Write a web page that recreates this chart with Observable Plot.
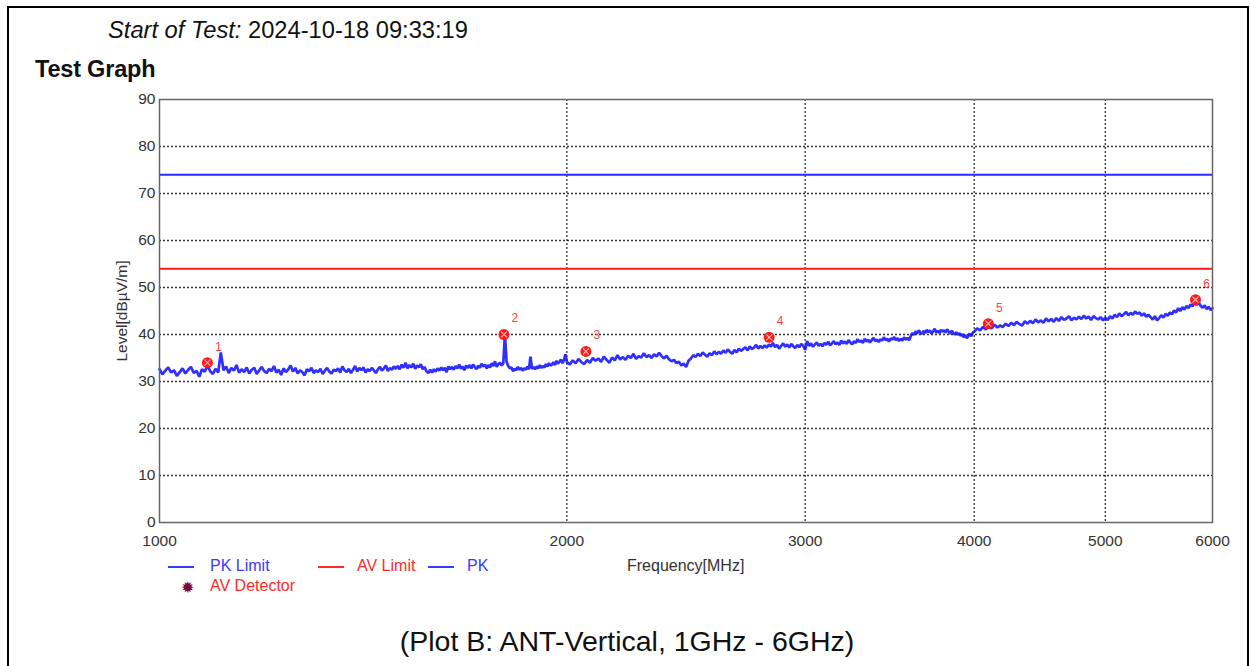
<!DOCTYPE html>
<html><head><meta charset="utf-8">
<script src="https://cdn.jsdelivr.net/npm/d3@7"></script>
<script src="https://cdn.jsdelivr.net/npm/@observablehq/plot@0.6"></script>
<style>
html,body{margin:0;padding:0;background:#fff;}
body{width:1250px;height:666px;overflow:hidden;position:relative;font-family:"Liberation Sans",Arial,sans-serif;}
#border{position:absolute;left:7px;top:6px;width:1242px;height:720px;border:2px solid #000;box-sizing:border-box;}
.abs{position:absolute;white-space:nowrap;}
#title{left:108px;top:17px;font-size:23.7px;color:#111;}
#sub{left:35px;top:56px;font-size:23.5px;font-weight:bold;color:#111;letter-spacing:-0.2px;}
#chart{left:0;top:89px;}
.leg{font-size:16px;}
.sw{position:absolute;height:2px;width:26px;}
#caption{left:0;width:1254px;text-align:center;top:625px;font-size:28.5px;color:#111;}
</style></head>
<body>
<div id="border"></div>
<div class="abs" id="title"><i>Start of Test:</i> 2024-10-18 09:33:19</div>
<div class="abs" id="sub">Test Graph</div>
<div class="abs" id="chart"></div>
<div id="legend"></div>
<div class="abs" id="caption">(Plot B: ANT-Vertical, 1GHz - 6GHz)</div>
<script>
// ---- data ----
const xTicks = [1000, 2000, 3000, 4000, 5000, 6000];
const yTicks = [0, 10, 20, 30, 40, 50, 60, 70, 80, 90];
const pkLimit = 74;
const avLimit = 54;

// PK trace, sweep 1000-1995 MHz step 5
const pkFreqA = d3.range(1000, 2000, 5);
const pkLevelA = [
 32.6,31.5,32.3,33.0,31.9,32.4,31.2,32.0,32.8,31.7,
 32.5,33.1,31.8,32.3,31.0,32.6,32.1,33.4,32.2,31.6,
 32.7,31.9,36.2,32.4,33.2,31.8,32.9,32.3,33.5,31.9,
 32.6,32.0,33.0,31.7,32.5,32.9,31.6,32.4,33.1,32.2,
 31.8,32.7,32.2,33.3,31.9,32.5,31.4,32.8,32.0,32.6,
 33.4,32.1,32.9,31.7,32.4,32.0,31.3,32.6,32.2,32.9,
 31.8,32.4,32.0,32.7,31.6,32.3,32.9,32.1,31.7,32.5,
 32.2,32.8,31.9,33.2,32.4,32.0,32.7,31.8,32.5,33.3,
 32.1,32.9,32.4,33.0,31.9,32.6,32.2,32.9,32.4,31.8,
 32.6,33.1,32.3,32.8,33.4,32.2,32.9,32.5,33.2,32.7,
 33.3,32.6,33.6,32.9,34.0,32.8,33.5,33.0,33.8,32.7,
 33.4,33.0,33.7,32.6,33.1,32.2,31.8,32.5,31.9,32.6,
 32.1,32.8,32.3,33.0,32.4,32.9,32.0,33.2,32.6,33.1,
 32.5,33.3,32.8,33.6,32.7,33.2,32.4,33.4,32.9,33.5,
 32.8,33.6,33.1,32.6,33.4,32.9,33.8,33.2,33.6,32.8,
 33.5,33.0,33.9,33.3,34.3,33.1,33.7,34.0,33.4,33.9,
 40.0,34.2,33.3,32.8,33.0,32.2,32.7,32.4,33.1,32.5,
 32.9,32.3,32.8,32.5,33.2,32.6,35.3,32.7,33.1,32.6,
 33.2,32.8,33.5,32.9,33.3,33.0,33.7,33.2,33.9,33.4,
 33.6,34.1,33.5,34.4,33.8,34.2,34.7,33.9,34.5,35.8
];
// PK trace, 2000-3990 MHz step 10
const pkFreqB = d3.range(2000, 4000, 10);
const pkLevelB = [
 34.2,33.6,34.5,33.9,34.8,34.1,33.7,34.6,34.0,35.0,
 34.4,34.9,34.2,35.3,34.6,34.0,35.1,34.5,35.6,34.7,
 35.2,34.6,35.5,35.0,35.9,34.8,35.4,35.1,36.0,35.2,
 35.6,35.0,35.8,35.3,36.1,35.4,34.9,35.5,34.7,34.3,
 34.6,33.9,34.2,33.4,33.8,33.1,34.4,34.9,35.6,35.2,
 35.9,35.4,36.2,35.7,35.3,36.0,35.6,36.4,35.8,36.3,
 35.9,36.6,36.1,36.8,36.3,35.9,36.7,36.2,37.0,36.5,
 36.9,37.3,36.6,37.5,36.9,37.2,37.8,37.0,37.6,37.1,
 37.7,37.2,37.9,37.4,38.2,37.3,37.8,37.0,37.6,38.1,
 37.4,37.9,37.2,38.0,37.5,37.1,37.8,37.3,38.0,37.6,
 36.7,38.6,37.6,38.1,37.4,37.9,38.3,37.6,38.0,37.5,
 38.2,37.8,38.5,37.7,38.1,38.6,37.9,38.3,37.8,38.7,
 38.1,38.5,38.0,38.8,38.3,37.9,38.6,38.2,39.0,38.4,
 38.7,38.2,39.1,38.5,38.9,38.3,38.8,39.3,38.6,38.9,
 38.4,39.0,38.7,39.4,38.8,39.1,38.5,39.2,38.9,39.5,
 38.8,39.2,38.6,39.1,38.7,39.4,38.9,39.3,38.8,39.6,
 40.3,39.9,40.7,40.2,40.9,40.4,40.1,40.8,40.3,41.0,
 40.5,40.9,40.2,40.7,41.2,40.4,40.8,40.3,41.0,40.6,
 40.9,40.4,41.1,40.6,40.2,40.8,40.3,40.0,40.5,39.9,
 40.3,39.7,40.1,39.4,39.9,39.2,39.7,40.2,39.6,40.4
];
// PK trace, 4000-6000 MHz step 20
const pkFreqC = d3.range(4000, 6001, 20);
const pkLevelC = [
 40.6,41.3,40.9,41.6,41.1,41.8,41.3,42.1,41.5,41.9,
 41.6,42.3,41.8,42.5,42.0,42.7,42.2,41.9,42.8,42.3,
 42.9,42.4,43.2,42.6,43.0,42.5,43.4,42.8,43.3,42.7,
 43.5,42.9,43.7,43.1,43.4,43.9,43.0,43.6,43.2,43.8,
 43.3,44.0,43.4,43.8,43.1,43.9,43.5,43.2,43.7,43.0,
 43.6,43.1,43.9,43.4,44.2,43.7,44.5,43.9,44.3,44.8,
 44.1,44.6,44.2,44.9,44.4,44.7,44.0,44.5,43.8,44.2,
 43.7,43.2,43.9,43.0,43.5,44.1,43.6,44.4,44.0,44.7,
 44.3,45.1,44.7,45.6,45.0,45.8,45.3,46.1,45.6,46.4,
 46.0,46.8,46.3,46.9,46.1,45.7,46.2,45.4,45.9,45.2,
 45.6
];

// AV detector markers
const markerId = ["1", "2", "3", "4", "5", "6"];
const markerFreq = [1085, 1797, 2066, 2822, 4097, 5829];
const markerLevel = [34.0, 40.0, 36.4, 39.4, 42.3, 47.4];

// ---- build tables ----
const pk = [];
[[pkFreqA, pkLevelA], [pkFreqB, pkLevelB], [pkFreqC, pkLevelC]].forEach(([f, l]) => {
  f.forEach((v, i) => pk.push({f: v, l: l[i]}));
});
const markers = markerId.map((id, i) => ({id, f: markerFreq[i], l: markerLevel[i]}));

const grid = {stroke: "#333", strokeWidth: 1.3, strokeDasharray: "2,2", strokeOpacity: 1};

const chart = Plot.plot({
  width: 1250,
  height: 460,
  marginLeft: 159,
  marginRight: 38,
  marginTop: 10,
  marginBottom: 27,
  style: {fontFamily: "'Liberation Sans', Arial, sans-serif", fontSize: "15.5px", color: "#333", background: "transparent"},
  x: {type: "log", domain: [1000, 6000]},
  y: {domain: [0, 90]},
  marks: [
    Plot.ruleY(yTicks.filter(d => d > 0 && d < 90), {y: d => d, ...grid}),
    Plot.ruleX(xTicks.filter(d => d > 1000 && d < 6000), {x: d => d, ...grid}),
    Plot.axisX({ticks: xTicks, tickFormat: d => String(d), tickSize: 0, tickPadding: 12, label: null, fontSize: 15.5}),
    Plot.axisY({ticks: yTicks, tickFormat: d => String(d), tickSize: 0, tickPadding: 4, label: "Level[dBµV/m]", labelAnchor: "center", labelArrow: "none", labelOffset: 44, fontSize: 15.5}),
    Plot.ruleY([pkLimit], {stroke: "#2a2aff", strokeWidth: 2}),
    Plot.ruleY([avLimit], {stroke: "#ff1a1a", strokeWidth: 2}),
    Plot.line(pk, {x: "f", y: "l", stroke: "#0a0aff", strokeWidth: 2.7, strokeOpacity: 0.85, strokeLinejoin: "miter"}),
    Plot.dot(markers, {x: "f", y: "l", r: 5.5, fill: "#ff1a1a", stroke: "none"}),
    Plot.dot(markers, {x: "f", y: "l", r: 2.8, symbol: "times", stroke: "#ffb8b8", strokeWidth: 1.1}),
    Plot.text(markers, {x: "f", y: "l", text: "id", dx: 11, dy: -16, fill: "#ff4040", fontSize: 12}),
    Plot.frame({stroke: "#666", strokeWidth: 1.5})
  ]
});
document.getElementById("chart").appendChild(chart);

// ---- legend ----
const legendItems = [
  {label: "PK Limit", color: "#3a3aff", sx: 168, tx: 210, y: 567},
  {label: "AV Limit", color: "#ff2a2a", sx: 318, tx: 357, y: 567},
  {label: "PK", color: "#3a3aff", sx: 428, tx: 467, y: 567}
];
const leg = document.getElementById("legend");
legendItems.forEach(it => {
  const s = document.createElement("div");
  s.className = "sw"; s.style.left = it.sx + "px"; s.style.top = (it.y - 1) + "px"; s.style.background = it.color;
  leg.appendChild(s);
  const t = document.createElement("div");
  t.className = "abs leg"; t.style.left = it.tx + "px"; t.style.top = (it.y - 10) + "px"; t.style.color = it.color;
  t.textContent = it.label;
  leg.appendChild(t);
});
const xl = document.createElement("div");
xl.className = "abs leg"; xl.style.left = "627px"; xl.style.top = "557px"; xl.style.color = "#333";
xl.textContent = "Frequency[MHz]";
leg.appendChild(xl);
const star = document.createElement("div");
star.className = "abs"; star.style.left = "181px"; star.style.top = "578px"; star.style.fontSize = "16px"; star.style.color = "#7a0a3a";
star.style.fontFamily = "'DejaVu Sans'";
star.textContent = "✹";
leg.appendChild(star);
const av = document.createElement("div");
av.className = "abs leg"; av.style.left = "210px"; av.style.top = "577px"; av.style.color = "#ff2a2a";
av.textContent = "AV Detector";
leg.appendChild(av);
</script>
</body></html>
